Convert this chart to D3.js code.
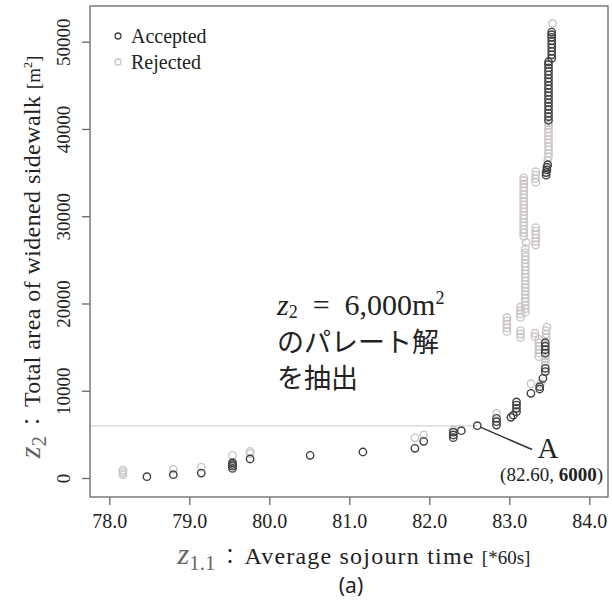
<!DOCTYPE html>
<html>
<head>
<meta charset="utf-8">
<script src="https://cdn.jsdelivr.net/npm/d3@7"></script>
<style>
  body { margin: 0; background: #fff; }
  text { font-family: "Liberation Serif", serif; fill: #222; }
</style>
</head>
<body>
<svg id="chart" width="612" height="605"></svg>
<script>
// tick labels
var xTicks = [78, 79, 80, 81, 82, 83, 84];
var yTicks = [0, 10000, 20000, 30000, 40000, 50000];

// accepted solutions [z1.1, z2]
var accepted = [
  [78.47, 150], [78.80, 380], [79.15, 570],
  [79.54, 1100], [79.54, 1350], [79.54, 1550], [79.54, 1750],
  [79.76, 2180], [80.51, 2600], [81.17, 2980], [81.82, 3400], [81.93, 4200],
  [82.30, 4620], [82.30, 4930], [82.30, 5250], [82.40, 5420], [82.60, 6000],
  [82.84, 6070], [82.84, 6450], [82.84, 6840],
  [83.02, 6950], [83.05, 7200], [83.09, 7600], [83.09, 7980], [83.09, 8360], [83.09, 8720],
  [83.27, 9700], [83.38, 10200], [83.38, 10470], [83.42, 11420], [83.45, 12200], [83.45, 12570],
  [83.45, 14300], [83.45, 14700], [83.45, 15100], [83.45, 15500],
  [83.46, 34700], [83.46, 35000], [83.47, 35300], [83.47, 35600], [83.48, 35900],
  [83.49, 41000], [83.49, 41400], [83.49, 41800], [83.49, 42200], [83.49, 42600], [83.49, 43000],
  [83.49, 43400], [83.49, 43800], [83.49, 44200], [83.49, 44600], [83.49, 45000], [83.49, 45400],
  [83.49, 45800], [83.49, 46200], [83.49, 46600], [83.49, 47000], [83.49, 47400], [83.49, 47700],
  [83.53, 48100], [83.53, 48500], [83.53, 48900], [83.53, 49300], [83.53, 49700],
  [83.53, 50100], [83.53, 50500], [83.53, 50800], [83.53, 51100]
];

// rejected solutions [z1.1, z2]
var rejected = [
  [78.17, 400], [78.17, 650], [78.17, 900], [78.80, 1000], [79.15, 1250],
  [79.54, 2600], [79.76, 2800], [79.76, 3050],
  [81.82, 4600], [81.93, 4950], [82.30, 5500], [82.84, 7400],
  [83.27, 10800], [83.39, 10800],
  [83.45, 12900], [83.45, 13300], [83.45, 13700], [83.45, 14000],
  [83.37, 13900], [83.37, 14300], [83.37, 14700], [83.37, 15100], [83.37, 15500], [83.37, 15900],
  [83.32, 16200], [83.32, 16600],
  [83.46, 16100], [83.46, 16500], [83.46, 16900], [83.47, 17300],
  [83.14, 16100], [83.14, 16500], [83.14, 16900],
  [82.97, 16800], [82.97, 17200], [82.97, 17600], [82.97, 18000], [82.97, 18400],
  [83.14, 18400], [83.14, 18800], [83.14, 19200], [83.14, 19600],
  [83.20, 19000], [83.20, 19400], [83.20, 19800], [83.20, 20200], [83.20, 20600], [83.20, 21000],
  [83.20, 21400], [83.20, 21800], [83.20, 22200], [83.20, 22600], [83.20, 23000], [83.20, 23400],
  [83.20, 23800], [83.20, 24200], [83.20, 24600], [83.20, 25000], [83.20, 25400], [83.20, 25800],
  [83.20, 26300],
  [83.21, 27000],
  [83.18, 27700], [83.18, 28100], [83.18, 28500], [83.18, 28900], [83.18, 29300], [83.18, 29700],
  [83.18, 30100], [83.18, 30500], [83.18, 30900], [83.18, 31300], [83.18, 31700], [83.18, 32100],
  [83.18, 32500], [83.18, 32900], [83.18, 33300], [83.18, 33700], [83.18, 34100], [83.18, 34400],
  [83.33, 26700], [83.33, 27100], [83.33, 27500], [83.33, 27900], [83.33, 28300], [83.33, 28700],
  [83.33, 33900], [83.33, 34300], [83.33, 34700], [83.33, 35100],
  [83.48, 36400], [83.49, 36800], [83.49, 37200], [83.49, 37600], [83.49, 38000], [83.49, 38400],
  [83.49, 38800], [83.49, 39200], [83.49, 39600], [83.49, 40000], [83.49, 40400], [83.49, 40700],
  [83.54, 52100]
];

var pointA = [82.60, 6000];

var svg = d3.select('#chart');

var x = d3.scaleLinear().domain([78, 84]).range([109.3, 589.3]);
var y = d3.scaleLinear().domain([0, 50000]).range([478, 41.7]);

var boxLeft = 90, boxRight = 608, boxTop = 6, boxBottom = 497;

// horizontal line at z2 = 6000
svg.append('line')
    .attr('x1', boxLeft).attr('x2', x(pointA[0]))
    .attr('y1', y(pointA[1])).attr('y2', y(pointA[1]))
    .attr('stroke', '#dcdcdc').attr('stroke-width', 1.5);

// points
svg.append('g').selectAll('circle')
    .data(rejected)
    .enter()
    .append('circle')
    .attr('cx', function(d) { return x(d[0]); })
    .attr('cy', function(d) { return y(d[1]); })
    .attr('r', 3.7)
    .attr('fill', 'none')
    .attr('stroke', '#cbc6c4')
    .attr('stroke-width', 1.4);

svg.append('g').selectAll('circle')
    .data(accepted)
    .enter()
    .append('circle')
    .attr('cx', function(d) { return x(d[0]); })
    .attr('cy', function(d) { return y(d[1]); })
    .attr('r', 3.7)
    .attr('fill', 'none')
    .attr('stroke', '#414141')
    .attr('stroke-width', 1.4);

// box
svg.append('rect')
    .attr('x', boxLeft).attr('y', boxTop)
    .attr('width', boxRight - boxLeft).attr('height', boxBottom - boxTop)
    .attr('fill', 'none').attr('stroke', '#666').attr('stroke-width', 1.3);

// axes
var xAxis = svg.append('g')
    .attr('transform', 'translate(0,' + boxBottom + ')')
    .call(d3.axisBottom(x).tickValues(xTicks).tickFormat(d3.format('.1f')).tickSize(8).tickPadding(9));
xAxis.select('.domain').remove();
xAxis.selectAll('line').attr('stroke', '#666').attr('stroke-width', 1.3);
xAxis.selectAll('text').style('font-family', '"Liberation Serif", serif').style('font-size', '20px').attr('fill', '#222');

var yAxis = svg.append('g')
    .attr('transform', 'translate(' + boxLeft + ',0)')
    .call(d3.axisLeft(y).tickValues(yTicks).tickFormat(d3.format('d')).tickSize(8));
yAxis.select('.domain').remove();
yAxis.selectAll('line').attr('stroke', '#666').attr('stroke-width', 1.3);
yAxis.selectAll('text')
    .attr('transform', 'rotate(-90)')
    .attr('x', 0).attr('y', -20).attr('dy', 0)
    .attr('text-anchor', 'middle')
    .style('font-family', '"Liberation Serif", serif').style('font-size', '19px').attr('fill', '#222');

// x axis title
var xt = svg.append('text')
    .attr('x', 354).attr('y', 564)
    .attr('text-anchor', 'middle')
    .style('font-size', '24px');
xt.append('tspan').text('z').style('font-style', 'italic').style('font-size', '30px').attr('fill', '#666');
xt.append('tspan').text('1.1').style('font-size', '21px').attr('dy', 6).attr('fill', '#666');
xt.append('tspan').text(' ： ').attr('dy', -6)
    .style('font-family', '"Noto Sans CJK JP", sans-serif').style('font-size', '20px');
xt.append('tspan').text('Average sojourn time ').style('letter-spacing', '1.2px');
xt.append('tspan').text('[*60s]').style('font-size', '19px');

svg.append('text')
    .attr('x', 351).attr('y', 593)
    .attr('text-anchor', 'middle')
    .style('font-family', '"Noto Sans", sans-serif')
    .style('font-size', '21px')
    .text('(a)');

// y axis title
var yt = svg.append('text')
    .attr('transform', 'translate(40,257) rotate(-90)')
    .attr('text-anchor', 'middle')
    .style('font-size', '24px');
yt.append('tspan').text('z').style('font-style', 'italic').style('font-size', '30px').attr('fill', '#666');
yt.append('tspan').text('2').style('font-size', '21px').attr('dy', 6).attr('fill', '#666');
yt.append('tspan').text(' ： ').attr('dy', -6)
    .style('font-family', '"Noto Sans CJK JP", sans-serif').style('font-size', '20px');
yt.append('tspan').text('Total area of widened sidewalk  ').style('letter-spacing', '0.4px');
yt.append('tspan').text('[m').style('font-size', '19px');
yt.append('tspan').text('2').style('font-size', '12px').attr('dy', -8);
yt.append('tspan').text(']').style('font-size', '19px').attr('dy', 8);

// legend
var legend = [['Accepted', '#414141'], ['Rejected', '#cbc6c4']];
var lg = svg.append('g').selectAll('g')
    .data(legend)
    .enter()
    .append('g')
    .attr('transform', function(d, i) { return 'translate(118,' + (36 + i * 26) + ')'; });
lg.append('circle').attr('r', 3).attr('fill', 'none')
    .attr('stroke', function(d) { return d[1]; }).attr('stroke-width', 1.3);
lg.append('text').attr('x', 13).attr('y', 6.5)
    .style('font-size', '20px')
    .text(function(d) { return d[0]; });

// annotation for point A
svg.append('line')
    .attr('x1', x(pointA[0]) + 3).attr('y1', y(pointA[1]) + 1.5)
    .attr('x2', 532).attr('y2', 449.5)
    .attr('stroke', '#333').attr('stroke-width', 1.5);
svg.append('text')
    .attr('x', 548).attr('y', 458)
    .attr('text-anchor', 'middle')
    .style('font-size', '29px')
    .text('A');
var at = svg.append('text')
    .attr('x', 603).attr('y', 481)
    .attr('text-anchor', 'end')
    .style('font-size', '19px')
    .attr('fill', '#333');
at.append('tspan').text('(' + pointA[0].toFixed(2) + ', ');
at.append('tspan').text(pointA[1]).style('font-weight', 'bold');
at.append('tspan').text(')');

// Japanese note
var note = svg.append('text')
    .attr('x', 277).attr('y', 315)
    .style('font-size', '30px')
    .attr('fill', '#000');
note.append('tspan').text('z').style('font-style', 'italic');
note.append('tspan').text('2').style('font-size', '18px').attr('dy', 3);
note.append('tspan').text('\u2002=\u20026,000m').attr('dy', -3);
note.append('tspan').text('2').style('font-size', '18px').attr('dy', -11);
svg.append('text')
    .attr('x', 277).attr('y', 352)
    .style('font-family', '"Noto Sans CJK JP", sans-serif')
    .style('font-size', '27px').attr('fill', '#000')
    .text('のパレート解');
svg.append('text')
    .attr('x', 277).attr('y', 388)
    .style('font-family', '"Noto Sans CJK JP", sans-serif')
    .style('font-size', '27px').attr('fill', '#000')
    .text('を抽出');
</script>
</body>
</html>
